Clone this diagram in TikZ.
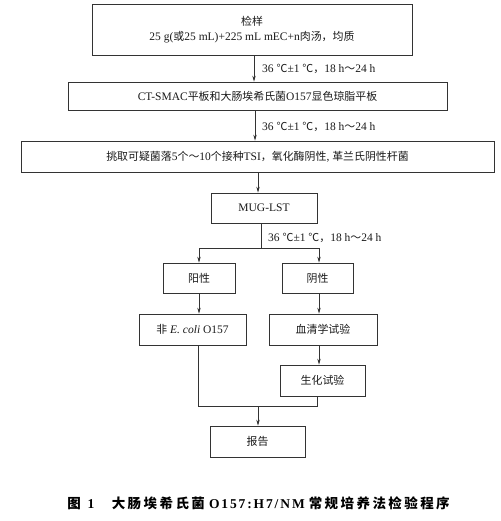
\documentclass[tikz,border=0pt]{standalone}
\usepackage{fontspec}
\setmainfont{Liberation Serif}
\newfontfamily\cjk[Scale=0.95]{Noto Sans CJK SC}
\newfontfamily\capcjk[LetterSpace=18]{Noto Sans CJK SC}
\newfontfamily\caplat[LetterSpace=14]{Liberation Serif}
\usetikzlibrary{arrows.meta}
\begin{document}
\begin{tikzpicture}[x=1pt,y=-1pt,
  font=\fontsize{11.5}{15}\selectfont,
  box/.style={draw=black!80, line width=0.7pt, inner sep=0pt, align=center, text=black!90},
  arr/.style={draw=black!80, line width=0.7pt, -{Stealth[length=6pt,width=3.4pt]}},
  ln/.style={draw=black!80, line width=0.7pt},
  lbl/.style={anchor=west, inner sep=0pt, text=black!90}]
\useasboundingbox (0,0) rectangle (500,521);

\node[box, minimum width=320pt, minimum height=51pt] (b1) at (252,29.5)
  {{\cjk 检样}\\ 25 g({\cjk 或}25 mL)+225 mL mEC+n{\cjk 肉汤，均质}};
\node[box, minimum width=379pt, minimum height=28pt] (b2) at (257.5,96)
  {CT-SMAC{\cjk 平板和大肠埃希氏菌}O157{\cjk 显色琼脂平板}};
\node[box, minimum width=473pt, minimum height=31pt] (b3) at (257.5,156.5)
  {{\cjk 挑取可疑菌落}5{\cjk 个～}10{\cjk 个接种}TSI{\cjk ，氧化酶阴性}, {\cjk 革兰氏阴性杆菌}};
\node[box, minimum width=106pt, minimum height=30pt] (mug) at (264,208) {MUG-LST};
\node[box, minimum width=72pt, minimum height=30pt] (pos) at (199,278) {\cjk 阳性};
\node[box, minimum width=71pt, minimum height=30pt] (neg) at (317.5,278) {\cjk 阴性};
\node[box, minimum width=107pt, minimum height=31pt] (non) at (192.5,329.5) {{\cjk 非} \textit{E. coli} O157};
\node[box, minimum width=108pt, minimum height=31pt] (sero) at (323,329.5) {\cjk 血清学试验};
\node[box, minimum width=85pt, minimum height=31pt] (bio) at (322.5,380.5) {\cjk 生化试验};
\node[box, minimum width=95pt, minimum height=31pt] (rep) at (257.5,441.5) {\cjk 报告};

\node[lbl] (l1) at (262,69) {36 {\cjk ℃}±1 {\cjk ℃，}18 h{\cjk ～}24 h};
\node[lbl] (l2) at (262,127) {36 {\cjk ℃}±1 {\cjk ℃，}18 h{\cjk ～}24 h};
\node[lbl] (l3) at (268,238) {36 {\cjk ℃}±1 {\cjk ℃，}18 h{\cjk ～}24 h};

\coordinate (split) at (261,248);
\coordinate (join) at (258,406);

\draw[arr] (b1.south -| 254,0) -- (b2.north -| 254,0);
\draw[arr] (b2.south -| 255,0) -- (b3.north -| 255,0);
\draw[arr] (b3.south -| 258,0) -- (mug.north -| 258,0);
\draw[ln] (mug.south -| split) -- (split);
\draw[ln] (split -| pos.north) -- (split -| 319,0);
\draw[arr] (split -| pos.north) -- (pos.north);
\draw[arr] (split -| 319,0) -- (neg.north -| 319,0);
\draw[arr] (pos.south) -- (non.north -| pos.south);
\draw[arr] (neg.south -| 319,0) -- (sero.north -| 319,0);
\draw[arr] (sero.south -| 319,0) -- (bio.north -| 319,0);
\draw[ln] (non.south -| 198,0) -- (join -| 198,0) -- (join -| 317,0) -- (bio.south -| 317,0);
\draw[arr] (join) -- (rep.north -| join);

\node[inner sep=0pt, text=black] (cap) at (258.5,503)
  {\fontsize{13.5}{16}\selectfont\bfseries {\capcjk 图}\hspace{0.5em}{\caplat 1}\hspace{1.3em}{\capcjk 大肠埃希氏菌}\hspace{0.3em}{\caplat O157:H7/NM}\hspace{0.3em}{\capcjk 常规培养法检验程序}};
\end{tikzpicture}
\end{document}
